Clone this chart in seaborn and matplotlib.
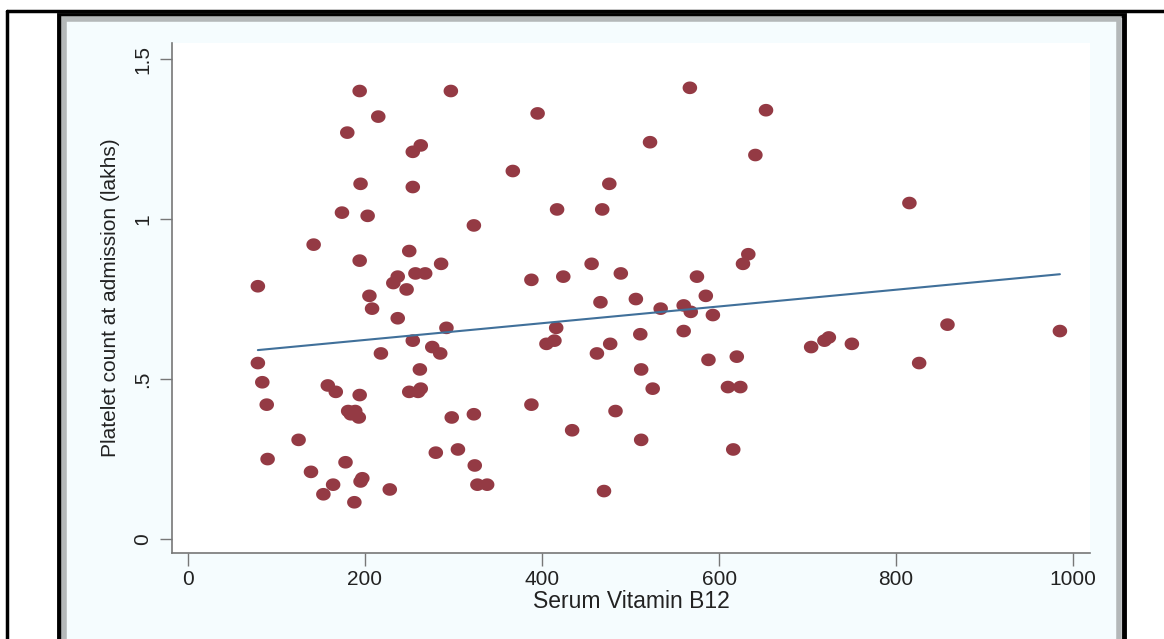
import numpy as np
import pandas as pd
import matplotlib
matplotlib.use("Agg")
import matplotlib.pyplot as plt
from matplotlib.patches import Rectangle
from matplotlib.path import Path
import seaborn as sns

# valores (aprox.)
vit_b12 = [79, 79, 84, 89, 90, 125, 139, 142, 153, 158, 164, 167, 174, 178, 180,
           181, 184, 188, 189, 193, 194, 195, 194, 194, 195, 197, 203, 205, 208, 215,
           218, 228, 232, 237, 237, 247, 250, 250, 254, 254, 254, 257, 260, 262, 263,
           263, 268, 276, 280, 285, 286, 292, 297, 298, 305, 323, 323, 324, 327, 338,
           367, 388, 388, 395, 405, 414, 416, 417, 424, 434, 456, 462, 466, 468, 470,
           476, 477, 483, 489, 506, 511, 512, 512, 522, 525, 534, 567, 560, 560, 568,
           575, 585, 588, 593, 610, 616, 620, 624, 627, 633, 641, 653, 704, 719, 724,
           750, 815, 826, 858, 985]
platelet = [0.79, 0.55, 0.49, 0.42, 0.25, 0.31, 0.21, 0.92, 0.14, 0.48, 0.17, 0.46, 1.02, 0.24, 1.27,
            0.40, 0.39, 0.115, 0.40, 0.38, 1.40, 1.11, 0.87, 0.45, 0.18, 0.19, 1.01, 0.76, 0.72, 1.32,
            0.58, 0.155, 0.80, 0.82, 0.69, 0.78, 0.90, 0.46, 1.21, 1.10, 0.62, 0.83, 0.46, 0.53, 1.23,
            0.47, 0.83, 0.60, 0.27, 0.58, 0.86, 0.66, 1.40, 0.38, 0.28, 0.39, 0.98, 0.23, 0.17, 0.17,
            1.15, 0.42, 0.81, 1.33, 0.61, 0.62, 0.66, 1.03, 0.82, 0.34, 0.86, 0.58, 0.74, 1.03, 0.15,
            1.11, 0.61, 0.40, 0.83, 0.75, 0.64, 0.53, 0.31, 1.24, 0.47, 0.72, 1.41, 0.73, 0.65, 0.71,
            0.82, 0.76, 0.56, 0.70, 0.475, 0.28, 0.57, 0.475, 0.86, 0.89, 1.20, 1.34, 0.60, 0.62, 0.63,
            0.61, 1.05, 0.55, 0.67, 0.65]

x_ticks = [0, 200, 400, 600, 800, 1000]
y_ticks = [0, 0.5, 1, 1.5]
y_tick_labels = ["0", ".5", "1", "1.5"]

df = pd.DataFrame({"b12": vit_b12, "plaq": platelet})

sns.set_style("white")
plt.rcParams["font.family"] = ["Liberation Sans", "DejaVu Sans"]

W, H = 1164, 639
fig = plt.figure(figsize=(W / 100, H / 100), dpi=100)
fig.patch.set_facecolor("white")

def px_rect(x0, y0, x1, y1, **kw):
    # retângulo em pixels (origem no topo)
    return Rectangle((x0 / W, 1 - y1 / H), (x1 - x0) / W, (y1 - y0) / H,
                     transform=fig.transFigure, zorder=-2, **kw)

# moldura externa
fig.lines.append(plt.Line2D([7 / W, 1], [1 - 11 / H, 1 - 11 / H], color="black", lw=2.5,
                            transform=fig.transFigure, zorder=-2))
fig.lines.append(plt.Line2D([7 / W, 7 / W], [0, 1 - 11 / H], color="black", lw=2.5,
                            transform=fig.transFigure, zorder=-2))
fig.patches.append(px_rect(59, 15, 1124, 650, facecolor="none", edgecolor="black", lw=3.5))
fig.patches.append(px_rect(64, 19, 1119, 650, facecolor="#f5fcfe", edgecolor="#b4b8b9", lw=4))

ax = fig.add_axes([172 / W, 1 - 553 / H, (1090 - 172) / W, (553 - 43) / H])
ax.set_facecolor("white")

# marcador levemente achatado (elipse), como no original
t = np.linspace(0, 2 * np.pi, 40)
elipse = Path(np.column_stack([1.15 * np.cos(t), np.sin(t)]), closed=True)

sns.regplot(data=df, x="b12", y="plaq", ax=ax, ci=None, marker=elipse,
            scatter_kws=dict(s=110, color="#943a44", edgecolor="none", alpha=1),
            line_kws=dict(color="#40709a", lw=1.5))

ax.set_xlim(-18, 1019)
ax.set_ylim(-0.0435, 1.55)
ax.set_xticks(x_ticks)
ax.set_yticks(y_ticks)
ax.set_yticklabels(y_tick_labels, rotation=90, va="center")
ax.tick_params(axis="both", direction="out", length=9, width=1, color="#777777",
               labelsize=15, labelcolor="#222222", left=True, bottom=True)
ax.tick_params(axis="x", pad=3)
ax.tick_params(axis="y", pad=5)

for s in ["top", "right"]:
    ax.spines[s].set_visible(False)
for s in ["left", "bottom"]:
    ax.spines[s].set_color("#777777")
    ax.spines[s].set_linewidth(1.2)

ax.set_xlabel("Serum Vitamin B12", fontsize=16.5, color="#222222", labelpad=1)
ax.set_ylabel("Platelet count at admission (lakhs)", fontsize=15, color="#222222", labelpad=10)

fig.savefig("out.png", dpi=100)
